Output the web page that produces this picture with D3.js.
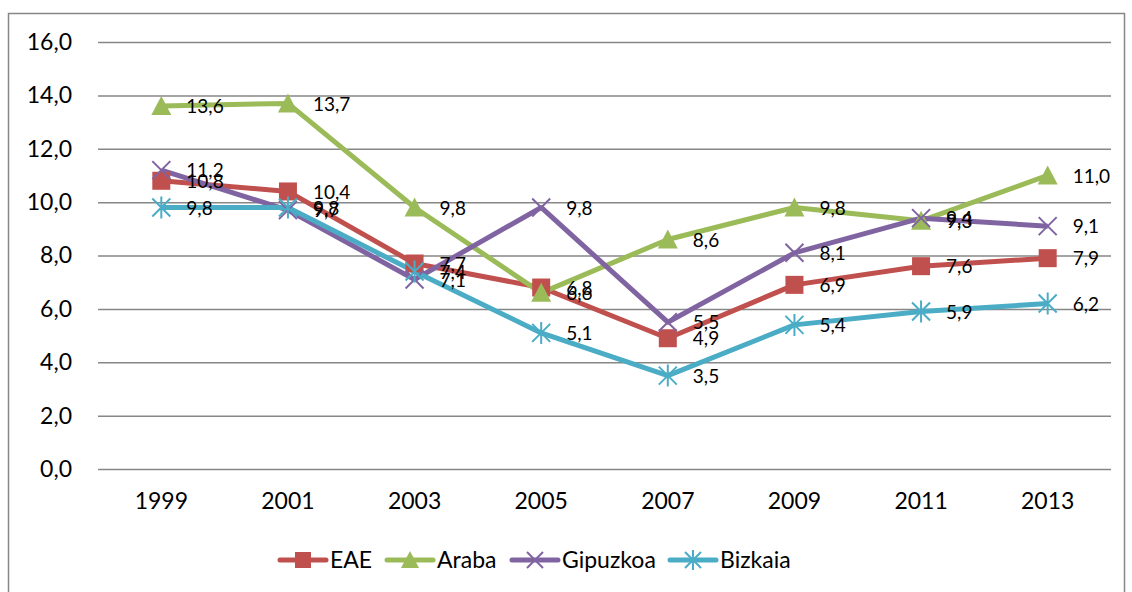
<!DOCTYPE html>
<html>
<head>
<meta charset="utf-8">
<script src="https://cdn.jsdelivr.net/npm/d3@7"></script>
<style>
  body { margin: 0; background: #fff; }
  text { font-family: Lato, "Open Sans", sans-serif; fill: #000; }
</style>
</head>
<body>
<div id="chart"></div>
<script>
// data
const years = ["1999", "2001", "2003", "2005", "2007", "2009", "2011", "2013"];
const seriesNames = ["EAE", "Araba", "Gipuzkoa", "Bizkaia"];
const eae      = [10.8, 10.4, 7.7, 6.8, 4.9, 6.9, 7.6, 7.9];
const araba    = [13.6, 13.7, 9.8, 6.6, 8.6, 9.8, 9.3, 11.0];
const gipuzkoa = [11.2, 9.7, 7.1, 9.8, 5.5, 8.1, 9.4, 9.1];
const bizkaia  = [9.8, 9.8, 7.4, 5.1, 3.5, 5.4, 5.9, 6.2];
const yTicks = [0, 2, 4, 6, 8, 10, 12, 14, 16];

const colors = ["#C0504D", "#9BBB59", "#8064A2", "#4BACC6"];
const symbols = ["square", "triangle", "x", "star"];
const series = [eae, araba, gipuzkoa, bizkaia].map((v, i) => ({name: seriesNames[i], values: v, color: colors[i], sym: symbols[i]}));

const W = 1132, H = 592;
const margin = {top: 42, right: 21, bottom: 123, left: 98};
const width = W - margin.left - margin.right,
      height = H - margin.top - margin.bottom;

const svg = d3.select("#chart").append("svg")
  .attr("width", W).attr("height", H);

// outer border
svg.append("rect")
  .attr("x", 8.5).attr("y", 13.5).attr("width", 1116).attr("height", 600)
  .attr("fill", "none").attr("stroke", "#868686").attr("stroke-width", 1.5);

const g = svg.append("g").attr("transform", `translate(${margin.left},${margin.top})`);

const x = d3.scaleBand().domain(years).range([0, width]);
const y = d3.scaleLinear().domain([0, 16]).range([height, 0]);
const fmt = d => d.toFixed(1).replace(".", ",");

// gridlines
g.append("g")
  .call(d3.axisLeft(y).tickValues(yTicks).tickSize(-width).tickFormat(""))
  .call(a => a.select(".domain").remove())
  .selectAll("line").attr("stroke", "#878787").attr("stroke-width", 1.5);

// y labels
g.append("g")
  .call(d3.axisLeft(y).tickValues(yTicks).tickSize(0).tickPadding(26).tickFormat(fmt))
  .call(a => a.select(".domain").remove())
  .selectAll("text").style("font-size", "23px").attr("fill", "#000");

// x labels
g.append("g")
  .attr("transform", `translate(0,${height})`)
  .call(d3.axisBottom(x).tickSize(0).tickPadding(24))
  .call(a => a.select(".domain").remove())
  .selectAll("text").style("font-size", "23px").attr("fill", "#000");

const cx = d => x(d) + x.bandwidth() / 2;

function drawMarker(sel, s, size) {
  const h = size / 2;
  if (s.sym === "square") {
    sel.append("rect").attr("x", -h).attr("y", -h).attr("width", size).attr("height", size)
      .attr("fill", s.color);
  } else if (s.sym === "triangle") {
    sel.append("path").attr("d", `M0,${-h - 1}L${h + 1},${h}L${-h - 1},${h}Z`).attr("fill", s.color);
  } else if (s.sym === "x") {
    sel.append("path").attr("d", `M${-h},${-h}L${h},${h}M${-h},${h}L${h},${-h}`)
      .attr("stroke", s.color).attr("stroke-width", 2).attr("fill", "none");
  } else {
    sel.append("path").attr("d", `M${-h},${-h}L${h},${h}M${-h},${h}L${h},${-h}M0,${-h - 2}L0,${h + 2}`)
      .attr("stroke", s.color).attr("stroke-width", 2).attr("fill", "none");
  }
}

const line = d3.line().x((d, i) => cx(years[i])).y(d => y(d));

series.forEach(s => {
  g.append("path")
    .datum(s.values)
    .attr("d", line)
    .attr("fill", "none")
    .attr("stroke", s.color)
    .attr("stroke-width", 5)
    .attr("stroke-linejoin", "round");
});

series.forEach(s => {
  s.values.forEach((v, i) => {
    const m = g.append("g").attr("transform", `translate(${cx(years[i])},${y(v)})`);
    drawMarker(m, s, 18);
  });
});

series.forEach(s => {
  g.append("g").selectAll("text")
    .data(s.values)
    .join("text")
      .attr("x", (d, i) => cx(years[i]) + 25)
      .attr("y", d => y(d))
      .attr("dy", "0.38em")
      .style("font-size", "19px")
      .text(fmt);
});

// legend
const legendX = [280, 387, 512, 670];
const legend = svg.append("g").attr("transform", "translate(0,560)");
series.forEach((s, i) => {
  const lg = legend.append("g").attr("transform", `translate(${legendX[i]},0)`);
  lg.append("line").attr("x1", 0).attr("x2", 46).attr("y1", 0).attr("y2", 0)
    .attr("stroke", s.color).attr("stroke-width", 5).attr("stroke-linecap", "round");
  const m = lg.append("g").attr("transform", "translate(23,0)");
  drawMarker(m, s, 16);
  lg.append("text").attr("x", 50).attr("dy", "0.36em").style("font-size", "23px").text(s.name);
});
</script>
</body>
</html>
